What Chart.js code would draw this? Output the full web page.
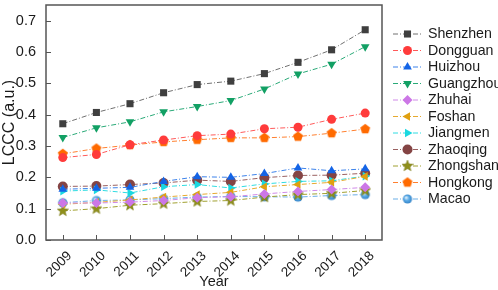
<!DOCTYPE html>
<html>
<head>
<meta charset="utf-8">
<script src="https://cdn.jsdelivr.net/npm/chart.js@4"></script>
<style>
  html, body { margin: 0; padding: 0; background: #fff; }
  #wrap { width: 498px; height: 290px; }
</style>
</head>
<body>
<div id="wrap"><canvas id="chartCanvas" width="498" height="290"></canvas></div>
<script>
const years = ['2009', '2010', '2011', '2012', '2013', '2014', '2015', '2016', '2017', '2018'];
const cities = ['Shenzhen', 'Dongguan', 'Huizhou', 'Guangzhou', 'Zhuhai', 'Foshan', 'Jiangmen', 'Zhaoqing', 'Zhongshan', 'Hongkong', 'Macao'];

const shenzhen  = [0.371, 0.407, 0.435, 0.470, 0.496, 0.507, 0.531, 0.567, 0.607, 0.671];
const dongguan  = [0.263, 0.273, 0.304, 0.319, 0.333, 0.338, 0.355, 0.360, 0.385, 0.405];
const huizhou   = [0.162, 0.165, 0.168, 0.187, 0.202, 0.200, 0.212, 0.230, 0.221, 0.227];
const guangzhou = [0.327, 0.358, 0.377, 0.409, 0.426, 0.445, 0.482, 0.530, 0.561, 0.617];
const zhuhai    = [0.118, 0.118, 0.121, 0.126, 0.135, 0.138, 0.147, 0.155, 0.161, 0.168];
const foshan    = [0.114, 0.120, 0.128, 0.137, 0.145, 0.152, 0.170, 0.177, 0.184, 0.203];
const jiangmen  = [0.156, 0.160, 0.150, 0.170, 0.177, 0.166, 0.179, 0.187, 0.189, 0.204];
const zhaoqing  = [0.171, 0.172, 0.177, 0.182, 0.191, 0.187, 0.199, 0.206, 0.207, 0.213];
const zhongshan = [0.093, 0.100, 0.111, 0.116, 0.123, 0.126, 0.137, 0.145, 0.149, 0.158];
const hongkong  = [0.275, 0.292, 0.303, 0.313, 0.320, 0.326, 0.326, 0.330, 0.341, 0.354];
const macao     = [0.119, 0.126, 0.128, 0.132, 0.137, 0.139, 0.138, 0.137, 0.142, 0.145];

const yTicks = [0, 0.1, 0.2, 0.3, 0.4, 0.5, 0.6, 0.7];

// small canvases for marker shapes Chart.js has no filled version of
function markerCanvas(size, draw) {
    const c = document.createElement('canvas');
    c.width = size; c.height = size;
    draw(c.getContext('2d'), size / 2);
    return c;
}
function polygon(ctx, cx, n, outer, inner, rot) {
    ctx.beginPath();
    const steps = inner ? n * 2 : n;
    for (let i = 0; i < steps; i++) {
        const r = inner && i % 2 ? inner : outer;
        const a = rot + i * Math.PI * 2 / steps;
        const px = cx + r * Math.sin(a), py = cx - r * Math.cos(a);
        i ? ctx.lineTo(px, py) : ctx.moveTo(px, py);
    }
    ctx.closePath();
}
const starImg = markerCanvas(12, (ctx, c) => {
    polygon(ctx, c, 5, 5.8, 2.5, 0);
    ctx.fillStyle = '#8f8f1a'; ctx.fill();
    ctx.strokeStyle = '#77770f'; ctx.lineWidth = 0.6; ctx.stroke();
});
const pentaImg = markerCanvas(12, (ctx, c) => {
    polygon(ctx, c, 5, 5.2, 0, 0);
    ctx.fillStyle = '#ff6a00'; ctx.fill();
});
const macaoImg = markerCanvas(12, (ctx, c) => {
    const g = ctx.createRadialGradient(c - 1.5, c - 1.5, 0.5, c, c, 5);
    g.addColorStop(0, '#d8ecfb');
    g.addColorStop(0.45, '#5aaae6');
    g.addColorStop(1, '#2f7fc4');
    ctx.beginPath(); ctx.arc(c, c, 4.6, 0, Math.PI * 2);
    ctx.fillStyle = g; ctx.fill();
});

const seriesValues = [shenzhen, dongguan, huizhou, guangzhou, zhuhai, foshan, jiangmen, zhaoqing, zhongshan, hongkong, macao];
const markColors = ['#3f3f3f', '#ff3b3b', '#1464e6', '#12a064', '#cc77e6', '#e0a010', '#1ad8e0', '#844444', '#8f8f1a', '#ff6a00', '#4a9fe0'];
const lineColors = ['#707070', '#ff5a5a', '#3c82ea', '#2aaa78', '#d08ae8', '#e6aa30', '#30dce2', '#996060', '#a0a030', '#ff8030', '#6aaee6'];
const styles = ['rect', 'circle', 'triangle', 'triangle', 'rectRot', 'triangle', 'triangle', 'circle', starImg, pentaImg, macaoImg];
const rotations = [0, 0, 0, 180, 0, -90, 90, 0, 0, 0, 0];
const radii = [5, 4.5, 5, 5, 5, 5, 5, 5, 5, 5, 5];

const datasets = cities.map((name, i) => ({
    label: name,
    data: seriesValues[i],
    borderColor: lineColors[i],
    backgroundColor: markColors[i],
    pointBackgroundColor: markColors[i],
    pointBorderColor: markColors[i],
    pointBorderWidth: 0,
    pointStyle: styles[i],
    pointRotation: rotations[i],
    pointRadius: radii[i],
    borderWidth: 1,
    borderDash: [5, 2, 1, 2],
    tension: 0,
    clip: false
}));

const FONT = "'Liberation Sans', Arial, sans-serif";

// frame, inward ticks and the line+marker legend
const framePlugin = {
    id: 'frame',
    afterDraw(chart) {
        const ctx = chart.ctx;
        const { left, right, top, bottom } = chart.chartArea;
        const xs = chart.scales.x, ys = chart.scales.y;
        ctx.save();
        ctx.strokeStyle = '#555';
        ctx.lineWidth = 1.5;
        ctx.strokeRect(left, top, right - left, bottom - top);
        ctx.lineWidth = 1;
        ys.ticks.forEach(t => {
            const py = Math.round(ys.getPixelForValue(t.value)) + 0.5;
            ctx.beginPath(); ctx.moveTo(left, py); ctx.lineTo(left + 5, py); ctx.stroke();
        });
        xs.ticks.forEach((t, i) => {
            const px = Math.round(xs.getPixelForTick(i)) + 0.5;
            ctx.beginPath(); ctx.moveTo(px, bottom); ctx.lineTo(px, bottom - 5); ctx.stroke();
        });

        // legend
        chart.data.datasets.forEach((ds, i) => {
            const ly = 34 + i * 16.5;
            ctx.strokeStyle = ds.borderColor;
            ctx.lineWidth = 1;
            ctx.setLineDash(ds.borderDash);
            ctx.beginPath(); ctx.moveTo(393, ly); ctx.lineTo(422, ly); ctx.stroke();
            ctx.setLineDash([]);
            ctx.fillStyle = ds.pointBackgroundColor;
            ctx.strokeStyle = ds.pointBackgroundColor;
            Chart.helpers.drawPoint(ctx, {
                pointStyle: ds.pointStyle, rotation: ds.pointRotation,
                radius: ds.pointRadius, borderWidth: 0
            }, 407.5, ly);
            ctx.fillStyle = '#1a1a1a';
            ctx.font = '14.2px ' + FONT;
            ctx.textBaseline = 'middle';
            ctx.textAlign = 'left';
            ctx.fillText(ds.label, 428, ly + 0.5);
        });
        ctx.restore();
    }
};

const ctx = document.getElementById('chartCanvas').getContext('2d');
new Chart(ctx, {
    type: 'line',
    data: { labels: years, datasets: datasets },
    options: {
        responsive: false,
        animation: false,
        layout: { padding: { top: 2, right: 116, left: 0, bottom: 0 } },
        plugins: { legend: { display: false }, tooltip: { enabled: false } },
        scales: {
            x: {
                offset: true,
                grid: { display: false },
                border: { display: false },
                afterFit: s => { s.height = 50; s.paddingLeft = 0; s.paddingRight = 0; },
                ticks: {
                    color: '#1a1a1a', font: { family: FONT, size: 13.5 },
                    maxRotation: 45, minRotation: 45, padding: 0, labelOffset: 7, autoSkip: false
                },
                title: { display: true, text: 'Year', color: '#1a1a1a', font: { family: FONT, size: 14.5 }, padding: { top: 0, bottom: -1 } }
            },
            y: {
                min: 0, max: 0.75,
                grid: { display: false },
                border: { display: false },
                afterFit: s => { s.width = 46; s.paddingTop = 0; s.paddingBottom = 0; },
                afterBuildTicks: s => { s.ticks = yTicks.map(v => ({ value: v })); },
                ticks: {
                    color: '#1a1a1a', font: { family: FONT, size: 14.5 }, padding: 2,
                    callback: v => Number(v).toFixed(1)
                },
                title: { display: true, text: 'LCCC (a.u.)', color: '#1a1a1a', font: { family: FONT, size: 16 }, padding: 0 }
            }
        }
    },
    plugins: [framePlugin]
});
</script>
</body>
</html>
